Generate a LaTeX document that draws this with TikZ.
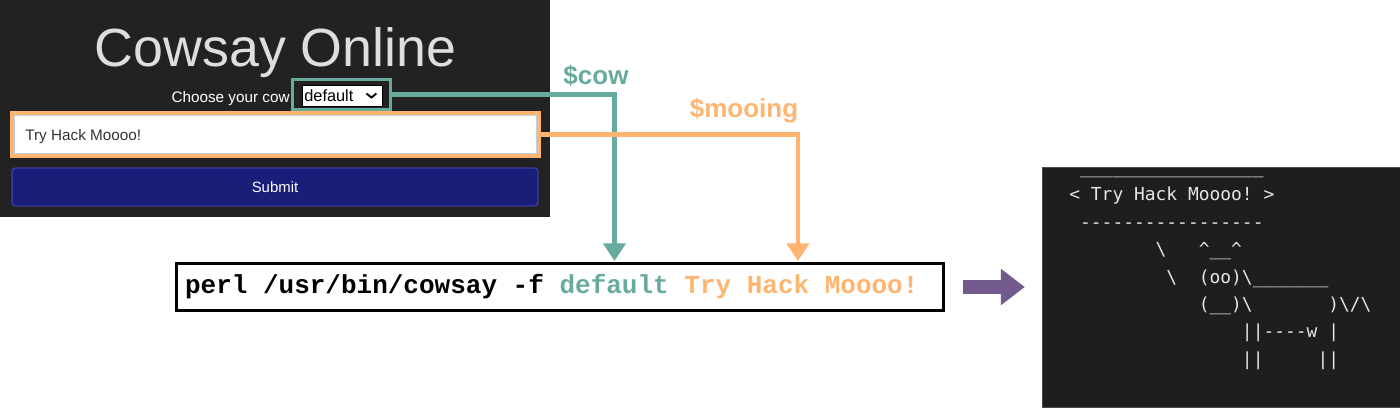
\documentclass[tikz,border=0pt]{standalone}
\usepackage{fontspec}
\setmainfont{Liberation Sans}
\newfontfamily\cmdfont{Liberation Mono}
\newfontfamily\termfont{DejaVu Sans Mono}[Ligatures=TeXOff]
\usetikzlibrary{arrows.meta,positioning}
\definecolor{panelbg}{HTML}{222222}
\definecolor{termbg}{HTML}{1E1E1E}
\definecolor{titlegray}{HTML}{DEDEDE}
\definecolor{cowteal}{HTML}{67AB9F}
\definecolor{mooorange}{HTML}{FFB570}
\definecolor{navy}{HTML}{191E78}
\definecolor{navyedge}{HTML}{3C3CA0}
\definecolor{fieldedge}{HTML}{BFD0E0}
\definecolor{pipe}{HTML}{735A8C}
\definecolor{termtext}{HTML}{E6E6E6}
% one full mono cell of space
\newcommand\gap{\hspace{0.6em}}

\begin{document}
\begin{tikzpicture}[x=0.02cm,y=-0.02cm,
  panel/.style={fill=panelbg,inner sep=0pt,minimum width=11cm,minimum height=4.34cm},
  formtxt/.style={inner sep=0pt,font=\fontsize{8.7}{10}\selectfont},
  selframe/.style={draw=cowteal,line width=1.7pt,fill=panelbg,minimum width=1.96cm,
                   minimum height=0.6cm,inner sep=0pt},
  selfield/.style={draw=black,line width=0.5pt,fill=white,minimum width=1.6cm,
                   minimum height=0.42cm,inner sep=0pt},
  infield/.style={draw=mooorange,line width=2.3pt,fill=white,minimum width=10.54cm,
                  minimum height=0.86cm,inner sep=0pt},
  submitbtn/.style={draw=navyedge,line width=0.8pt,fill=navy,rounded corners=2pt,
                    minimum width=10.52cm,minimum height=0.76cm,text=white,
                    font=\fontsize{8.5}{10}\selectfont},
  wire/.style={line width=2.3pt,-{Triangle[length=10pt,width=12.5pt]}},
  varlbl/.style={inner sep=0pt,font=\bfseries\fontsize{14.8}{16}\selectfont},
  cmdbox/.style={draw=black,line width=1.7pt,fill=white,minimum width=15.34cm,
                 minimum height=0.94cm,text width=15cm,inner xsep=0.17cm,align=left,
                 font=\cmdfont\bfseries\fontsize{14.8}{16}\selectfont},
  pipearrow/.style={draw=pipe,line width=8.5pt,-{Triangle[length=13.6pt,width=19.8pt]},
                    shorten <=10.2pt,shorten >=9.6pt},
  termbox/.style={draw=termbg!80!white,line width=0.4pt,fill=termbg,minimum width=7.16cm,
                  minimum height=4.8cm,inner sep=0pt},
  cowtxt/.style={inner sep=0pt,align=left,text=termtext,
                 font=\termfont\frenchspacing\fontsize{10.2}{15.6}\selectfont}
]
\useasboundingbox (0,0) rectangle (1400,409);
% web form
\node[panel] (panel) at (275,108.5) {};
\node[anchor=base,inner sep=0pt,text=titlegray,font=\fontsize{30.6}{32}\selectfont]
     (title) at (275.5,66) {Cowsay Online};
\node[formtxt,anchor=base east,text=white] (choose) at (290,102) {Choose your cow};
\node[selframe] (selbox) at (341.5,94.5) {};
\node[selfield] (sel) at (342,95.5) {};
\node[formtxt,anchor=base west,font=\fontsize{9.3}{10}\selectfont] (seltxt) at (304,101) {default};
\draw[line width=1.1pt] (sel.east) ++(-16,-2) -- ++(5,4) -- ++(5,-4);
\node[infield] (inbox) at (275.5,134.5) {};
\node[draw=fieldedge,line width=0.6pt,minimum width=10.44cm,minimum height=0.76cm,
      inner sep=0pt] (infld) at (275.5,134.5) {};
\node[formtxt,anchor=base west,text=black!80] (intxt) at (25,140) {Try Hack Moooo!};
\node[submitbtn] (submit) at (275,187) {Submit};

% command line
\node[cmdbox] (cmd) at (560,287)
     {perl\gap/usr/bin/cowsay\gap-f\gap\textcolor{cowteal}{default}\gap
      \textcolor{mooorange}{Try\gap Hack\gap Moooo!}};
\coordinate (cowin) at (614.5,261);
\coordinate (mooin) at (798,261);
\draw[wire,cowteal] (selbox.east) -| (cowin);
\draw[wire,mooorange] (inbox.east) -| (mooin);
\node[varlbl,text=cowteal,anchor=base] (cowlbl) at (596,84) {\$cow};
\node[varlbl,text=mooorange,anchor=base] (moolbl) at (744,117) {\$mooing};

% output
\node[termbox] (term) at (1221,287) {};
\draw[pipearrow] (cmd) -- (term);
\node[cowtxt,anchor=north west] (cowsay) at (1069,154)
  {\strut\ \_\_\_\_\_\_\_\_\_\_\_\_\_\_\_\_\_\\
   \mbox{}< Try Hack Moooo! >\\
   \mbox{}~-----------------\\
   \mbox{}~~~~~~~~\textbackslash~~~\textasciicircum\_\_\textasciicircum\\
   \mbox{}~~~~~~~~~\textbackslash~~(oo)\textbackslash\_\_\_\_\_\_\_\\
   \mbox{}~~~~~~~~~~~~(\_\_)\textbackslash~~~~~~~)\textbackslash/\textbackslash\\
   \mbox{}~~~~~~~~~~~~~~~~||----w~|\\
   \mbox{}~~~~~~~~~~~~~~~~||~~~~~||};
\end{tikzpicture}
\end{document}
